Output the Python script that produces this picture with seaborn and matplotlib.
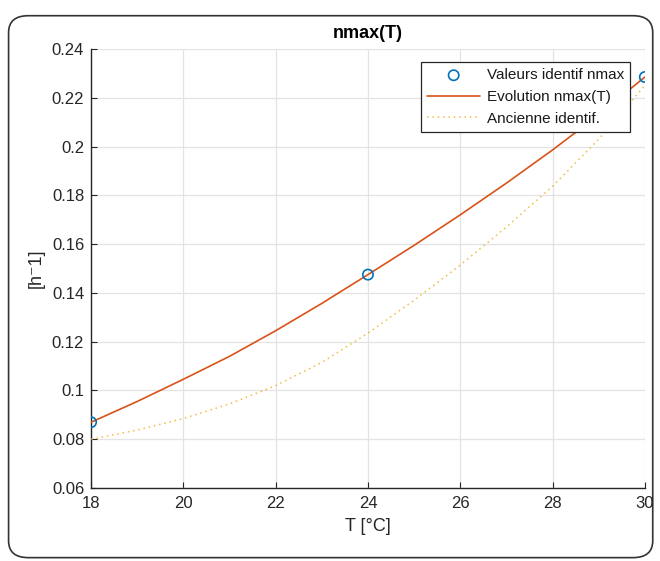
import matplotlib
matplotlib.use("Agg")
import matplotlib.pyplot as plt
import seaborn as sns
import pandas as pd
from matplotlib.patches import FancyBboxPatch

# Data
T_points = [18, 24, 30]
n_points = [0.087, 0.1475, 0.2285]

T_curve = [18, 19, 20, 21, 22, 23, 24, 25, 26, 27, 28, 29, 30]
n_evol = [0.087, 0.0955, 0.1046, 0.1140, 0.1245, 0.1357, 0.1475, 0.1595, 0.1720, 0.1850, 0.1986, 0.2130, 0.2285]
n_old = [0.0800, 0.0838, 0.0885, 0.0945, 0.1020, 0.1115, 0.1235, 0.1370, 0.1514, 0.1670, 0.1837, 0.2030, 0.2250]

x_ticks = [18, 20, 22, 24, 26, 28, 30]
y_ticks = [0.06, 0.08, 0.1, 0.12, 0.14, 0.16, 0.18, 0.2, 0.22, 0.24]
y_tick_labels = ["0.06", "0.08", "0.1", "0.12", "0.14", "0.16", "0.18", "0.2", "0.22", "0.24"]

sns.set_style("whitegrid")
plt.rcParams['font.family'] = ['Liberation Sans', 'DejaVu Sans']

fig = plt.figure(figsize=(6.6, 5.61), dpi=100)
ax = fig.add_axes([0.138, 0.130, 0.839, 0.7827])

blue = "#0072BD"
orange = "#D95319"
yellow = "#EDB120"

df_pts = pd.DataFrame({"T": T_points, "n": n_points})
df_curve = pd.DataFrame({"T": T_curve, "evol": n_evol, "old": n_old})

sns.scatterplot(data=df_pts, x="T", y="n", ax=ax, marker="o", s=55,
                facecolors="none", edgecolor=blue, linewidth=1.2,
                label="Valeurs identif nmax", zorder=5)
sns.lineplot(data=df_curve, x="T", y="evol", ax=ax, color=orange, lw=1.2,
             label="Evolution nmax(T)", zorder=4)
sns.lineplot(data=df_curve, x="T", y="old", ax=ax, color=yellow, lw=1.1,
             linestyle=(0, (1, 2.5)), alpha=0.85, label="Ancienne identif.", zorder=3)

ax.set_xlim(18, 30)
ax.set_ylim(0.06, 0.24)
ax.set_xticks(x_ticks)
ax.set_xticklabels([str(t) for t in x_ticks])
ax.set_yticks(y_ticks)
ax.set_yticklabels(y_tick_labels)

ax.grid(True, color="#e3e3e3", lw=0.9)
ax.set_axisbelow(True)
for s in ["top", "right"]:
    ax.spines[s].set_visible(False)
for s in ["left", "bottom"]:
    ax.spines[s].set_color("#262626")
    ax.spines[s].set_linewidth(1.0)

ax.tick_params(axis="both", direction="in", length=4, width=0.8, color="#262626",
               labelsize=12, labelcolor="#262626", pad=5)
ax.tick_params(axis="x", pad=6)
ax.tick_params(left=True, bottom=True)

ax.set_xlabel("T [°C]", fontsize=13, color="#262626", labelpad=5)
ax.set_ylabel("[h\u207b1]", fontsize=13, color="#262626", labelpad=5)
ax.set_title("nmax(T)", fontsize=13, fontweight="bold", color="#000000", pad=8)

leg = ax.legend(loc="upper right", bbox_to_anchor=(0.973, 0.970), fontsize=11,
                frameon=True, fancybox=False, framealpha=1, edgecolor="#262626",
                borderpad=0.4, labelspacing=0.5, handlelength=3.5, handletextpad=0.4,
                borderaxespad=0)
leg.get_frame().set_linewidth(0.9)
for t in leg.get_texts():
    t.set_color("#1a1a1a")

# rounded figure border
border = FancyBboxPatch((0.013, 0.006), 0.976, 0.966,
                        boxstyle="round,pad=0,rounding_size=0.03",
                        transform=fig.transFigure, fill=False,
                        edgecolor="#333333", lw=1.2, zorder=-1)
fig.patches.append(border)

fig.savefig("out.png", dpi=100)
